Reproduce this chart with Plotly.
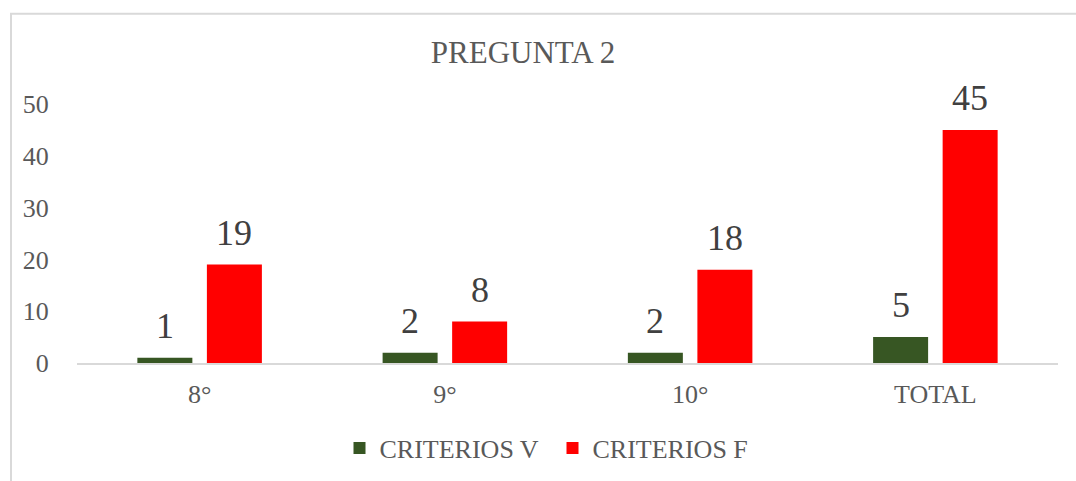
import plotly.graph_objects as go

categories = ["8°", "9°", "10°", "TOTAL"]
criterios_v = [1, 2, 2, 5]
criterios_f = [19, 8, 18, 45]
series_names = ["CRITERIOS V", "CRITERIOS F"]
y_ticks = [0, 10, 20, 30, 40, 50]

W, H = 1076, 481
L, R, T, B = 77, W - 1058, 104, H - 363.5
pw, ph = W - L - R, H - T - B

BARGAP, GROUPGAP = 0.433, 0.209
slot = pw / len(categories) * (1 - BARGAP) / 2

FONT = "Liberation Serif, Times New Roman, serif"
COLORS = ["#375623", "#FF0000"]

fig = go.Figure()
for i, (name, vals) in enumerate(zip(series_names, [criterios_v, criterios_f])):
    fig.add_trace(go.Bar(
        x=categories, y=vals, name=name,
        marker=dict(color=COLORS[i], line=dict(width=0)),
    ))
    shift = (i - 0.5) * slot
    for c, v in zip(categories, vals):
        fig.add_annotation(x=c, y=v, xref="x", yref="y", text=str(v),
                           showarrow=False, xshift=shift, yanchor="bottom",
                           yshift=10,
                           font=dict(family=FONT, size=36, color="#404040"))

# chart-area border (light gray), extends past right/bottom edges
fig.add_shape(type="rect", xref="paper", yref="paper",
              x0=(11 - L) / pw, x1=(W + 20 - L) / pw,
              y0=-(H + 20 - T - ph) / ph, y1=1 + (T - 13.5) / ph,
              line=dict(color="#d9d9d9", width=2), fillcolor="rgba(0,0,0,0)",
              layer="below")

fig.update_layout(
    width=W, height=H,
    margin=dict(l=L, r=R, t=T, b=B, pad=0, autoexpand=False),
    paper_bgcolor="white", plot_bgcolor="white",
    barmode="group", bargap=BARGAP, bargroupgap=GROUPGAP,
    title=dict(text="PREGUNTA 2", x=523 / W, xref="container", xanchor="center",
               y=1 - 52 / H, yref="container", yanchor="middle",
               font=dict(family=FONT, size=31, color="#595959")),
    font=dict(family=FONT, color="#595959"),
    showlegend=True,
    legend=dict(orientation="h", xref="container", yref="container",
                x=552.5 / W, xanchor="center", y=1 - 448 / H, yanchor="middle",
                font=dict(family=FONT, size=26, color="#595959"),
                entrywidth=168, traceorder="normal"),
    xaxis=dict(showgrid=False, showline=True, linecolor="#d9d9d9", linewidth=2,
               ticks="outside", ticklen=7, tickcolor="rgba(0,0,0,0)",
               tickfont=dict(family=FONT, size=26, color="#595959"), zeroline=False),
    yaxis=dict(range=[0, 50], tickvals=y_ticks, showgrid=False, showline=False,
               zeroline=False, ticks="outside", ticklen=22, tickcolor="rgba(0,0,0,0)",
               tickfont=dict(family=FONT, size=26, color="#595959")),
)

fig.write_html("out.html", config={"displayModeBar": False},
               post_script="document.body.style.margin='0';document.body.style.overflow='hidden';")
